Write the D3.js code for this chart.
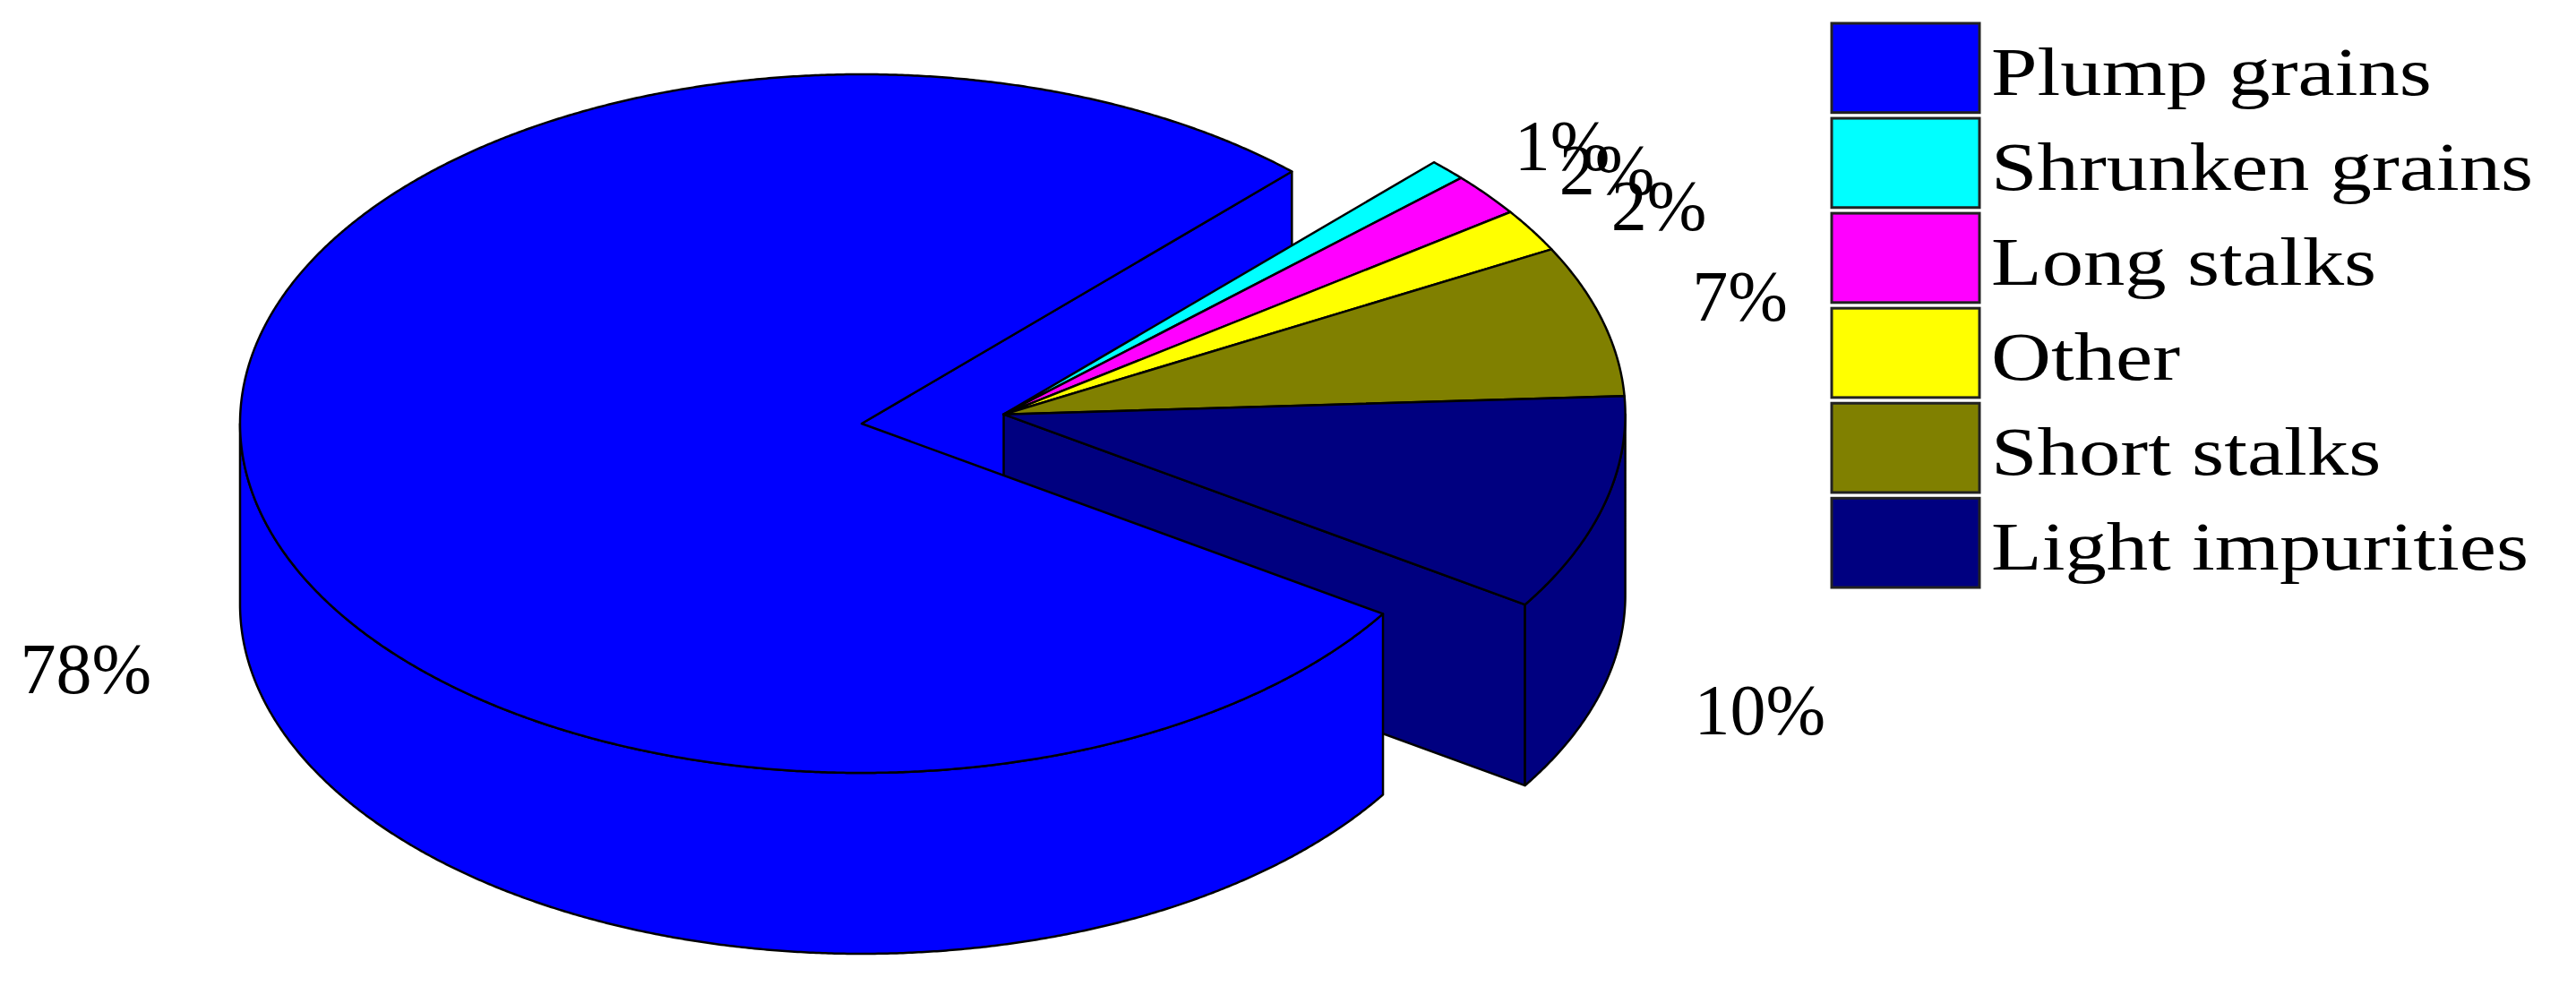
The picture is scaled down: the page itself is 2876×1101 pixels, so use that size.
<!DOCTYPE html>
<html><head><meta charset="utf-8">
<script src="https://cdn.jsdelivr.net/npm/d3@7"></script>
<style>html,body{margin:0;padding:0;background:#fff;} svg{display:block;}</style>
</head><body>
<svg id="chart" width="2876" height="1101"></svg>
<script>
// ---- data ----
const categories = ["Plump grains","Shrunken grains","Long stalks","Other","Short stalks","Light impurities"];
const values = [78, 1, 2, 2, 7, 10];
const labels = ["78%","1%","2%","2%","7%","10%"];
const colors = ["#0000FF","#00FFFF","#FF00FF","#FFFF00","#808000","#000080"];
const exploded = [false, true, true, true, true, true];

// ---- layout ----
const svg = d3.select("#chart");
const cx = 962, cy = 473, rx = 694, ry = 390, depth = 202;
const startDeg = 123;       // pie start, clockwise from 12 o'clock
const explodeDist = 0.23;   // in radius units
const labelKx = 1.15, labelKy = 1.0;
const labelSize = 80;
const strokeW = 2.5;

const xs = d3.scaleLinear().domain([-1, 1]).range([cx - rx, cx + rx]);
const ys = d3.scaleLinear().domain([-1, 1]).range([cy + ry, cy - ry]);

const a0 = startDeg * Math.PI / 180;
const pie = d3.pie().sort(null).value(d => d).startAngle(a0).endAngle(a0 + 2 * Math.PI);
const arcs = pie(values);

const phi = a => Math.PI / 2 - a;
function P(o, a, r, z) {
  const f = phi(a);
  return [xs(o[0] + r * Math.cos(f)), ys(o[1] + r * Math.sin(f)) + z];
}
function arcPts(o, b0, b1, z) {
  const n = Math.max(2, Math.ceil(Math.abs(b1 - b0) / 0.005));
  return d3.range(n + 1).map(i => P(o, b0 + (b1 - b0) * i / n, 1, z));
}
const line = d3.line();
const topPath = (o, b0, b1) => line([P(o, 0, 0, 0), ...arcPts(o, b0, b1, 0)]) + "Z";
const sidePath = (o, b0, b1) => line([...arcPts(o, b0, b1, 0), ...arcPts(o, b1, b0, depth)]) + "Z";
const cutPath = (o, a) => line([P(o, a, 0, 0), P(o, a, 1, 0), P(o, a, 1, depth), P(o, a, 0, depth)]) + "Z";

function sideRanges(s, e) {
  const out = [];
  for (let k = -1; k <= 2; k++) {
    const lo = Math.PI / 2 + 2 * Math.PI * k, hi = 3 * Math.PI / 2 + 2 * Math.PI * k;
    const b0 = Math.max(s, lo), b1 = Math.min(e, hi);
    if (b1 > b0) out.push([b0, b1]);
  }
  return out;
}

const ex = arcs.filter((d, i) => exploded[i]);
const gMid = (ex[0].startAngle + ex[ex.length - 1].endAngle) / 2;
const gOff = [explodeDist * Math.cos(phi(gMid)), explodeDist * Math.sin(phi(gMid))];
const mainOff = [0, 0];
const offOf = i => exploded[i] ? gOff : mainOff;

const layer = svg.append("g").attr("stroke", "#000").attr("stroke-width", strokeW).attr("stroke-linejoin", "round");

function drawCuts(idxs, o) {
  const s = arcs[idxs[0]].startAngle, e = arcs[idxs[idxs.length - 1]].endAngle;
  if (Math.cos(phi(s)) < 0) layer.append("path").attr("d", cutPath(o, s)).attr("fill", colors[idxs[0]]);
  if (Math.cos(phi(e)) > 0) layer.append("path").attr("d", cutPath(o, e)).attr("fill", colors[idxs[idxs.length - 1]]);
}
function drawSides(i, o) {
  sideRanges(arcs[i].startAngle, arcs[i].endAngle).forEach(r =>
    layer.append("path").attr("d", sidePath(o, r[0], r[1])).attr("fill", colors[i]));
}
function drawTop(i, o) {
  layer.append("path").attr("d", topPath(o, arcs[i].startAngle, arcs[i].endAngle)).attr("fill", colors[i]);
}

const mainIdx = d3.range(values.length).filter(i => !exploded[i]);
const grpIdx = d3.range(values.length).filter(i => exploded[i]);

drawCuts(mainIdx, mainOff);
drawCuts(grpIdx, gOff);
grpIdx.forEach(i => drawSides(i, gOff));
grpIdx.forEach(i => drawTop(i, gOff));
mainIdx.forEach(i => drawSides(i, mainOff));
mainIdx.forEach(i => drawTop(i, mainOff));

// ---- percentage labels ----
// far-side labels sit on the point (baseline), near-side labels hang below it
svg.append("g").selectAll("text").data(arcs).join("text")
  .attr("font-family", "'Liberation Serif','Times New Roman',serif")
  .attr("font-size", labelSize)
  .attr("fill", "#000")
  .each(function (d, i) {
    const m = (d.startAngle + d.endAngle) / 2, f = phi(m);
    const o = offOf(i);
    const near = Math.sin(f) < 0;
    const x = xs(o[0] + labelKx * Math.cos(f));
    const y = ys(o[1] + labelKy * Math.sin(f)) + (near ? depth + 0.68 * labelSize : 0);
    d3.select(this).attr("x", x).attr("y", y)
      .attr("text-anchor", Math.cos(f) >= 0 ? "start" : "end")
      .text(labels[i]);
  });

// ---- legend ----
const ly = d3.scaleBand().domain(categories).range([26, 656]).paddingInner(0.06);
const lg = svg.append("g");
const boxX = 2045, boxW = 165, textX = 2223;
lg.selectAll("rect").data(categories).join("rect")
  .attr("x", boxX).attr("y", d => ly(d)).attr("width", boxW).attr("height", ly.bandwidth())
  .attr("fill", (d, i) => colors[i]).attr("stroke", "#222").attr("stroke-width", 3);
lg.selectAll("text").data(categories).join("text")
  .attr("x", textX).attr("y", d => ly(d) + ly.bandwidth() / 2 + 4)
  .attr("dominant-baseline", "central")
  .attr("font-family", "'Liberation Serif','Times New Roman',serif")
  .attr("font-size", 76).attr("fill", "#000")
  .text(d => d)
  .each(function () {
    const w = this.getComputedTextLength();
    d3.select(this).attr("textLength", w * 1.22).attr("lengthAdjust", "spacingAndGlyphs");
  });
</script>
</body></html>
